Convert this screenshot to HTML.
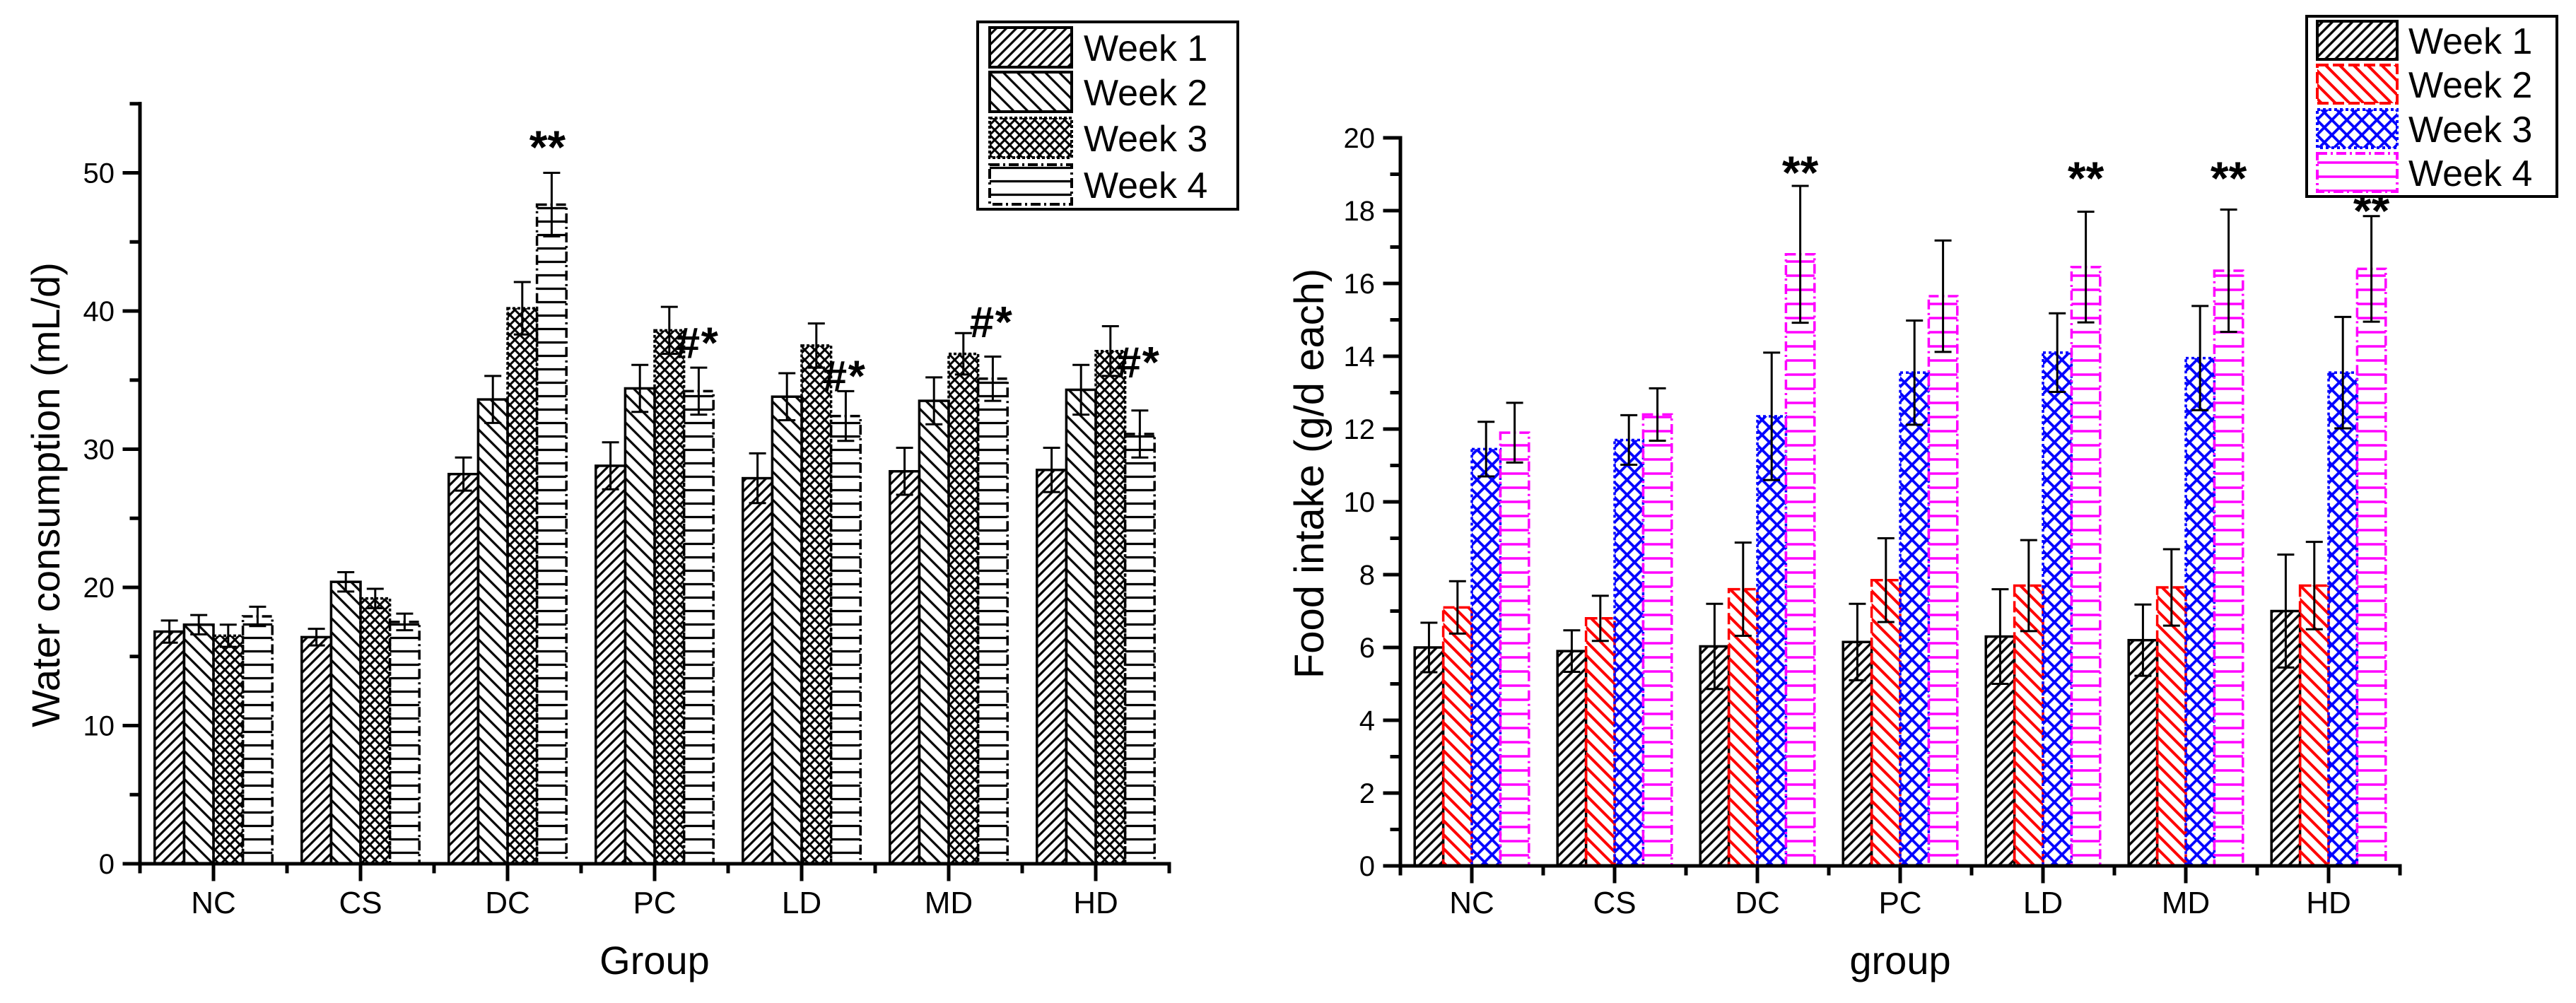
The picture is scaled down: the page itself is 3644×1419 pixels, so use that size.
<!DOCTYPE html>
<html>
<head>
<meta charset="utf-8">
<style>
  html, body { margin: 0; padding: 0; background: #fff; }
  svg { display: block; }
  text { font-family: "Liberation Sans", Arial, sans-serif; }
</style>
</head>
<body>
<svg id="fig" xmlns="http://www.w3.org/2000/svg" width="3644" height="1419" viewBox="0 0 3644 1419">
  <rect x="0" y="0" width="3644" height="1419" fill="#fff"/>
  <defs>
    <!-- left chart patterns (black) -->
    <pattern id="pL1" patternUnits="userSpaceOnUse" width="10" height="10" patternTransform="rotate(45)">
      <line x1="5" y1="0" x2="5" y2="10" stroke="#000" stroke-width="3.2"/>
    </pattern>
    <pattern id="pL2" patternUnits="userSpaceOnUse" width="14" height="14" patternTransform="rotate(-45)">
      <line x1="7" y1="0" x2="7" y2="14" stroke="#000" stroke-width="3.2"/>
    </pattern>
    <pattern id="pL3" patternUnits="userSpaceOnUse" width="10" height="10" patternTransform="rotate(45)">
      <line x1="5" y1="0" x2="5" y2="10" stroke="#000" stroke-width="3"/>
      <line x1="0" y1="5" x2="10" y2="5" stroke="#000" stroke-width="3"/>
    </pattern>
    <pattern id="pL4" patternUnits="userSpaceOnUse" width="20" height="19">
      <line x1="0" y1="9.5" x2="20" y2="9.5" stroke="#000" stroke-width="3.2"/>
    </pattern>
    <!-- right chart patterns (colour) -->
    <pattern id="pR1" patternUnits="userSpaceOnUse" width="10" height="10" patternTransform="rotate(45)">
      <line x1="5" y1="0" x2="5" y2="10" stroke="#000" stroke-width="3.4"/>
    </pattern>
    <pattern id="pR2" patternUnits="userSpaceOnUse" width="14" height="14" patternTransform="rotate(-45)">
      <line x1="7" y1="0" x2="7" y2="14" stroke="#ff0000" stroke-width="4"/>
    </pattern>
    <pattern id="pR3" patternUnits="userSpaceOnUse" width="15" height="15" patternTransform="rotate(45)">
      <line x1="7.5" y1="0" x2="7.5" y2="15" stroke="#0000ff" stroke-width="3.8"/>
      <line x1="0" y1="7.5" x2="15" y2="7.5" stroke="#0000ff" stroke-width="3.8"/>
    </pattern>
    <pattern id="pR4" patternUnits="userSpaceOnUse" width="20" height="20">
      <line x1="0" y1="10" x2="20" y2="10" stroke="#ff00ff" stroke-width="3.6"/>
    </pattern>
  </defs>
  <g id="leftChart"></g>
  <g id="rightChart"></g>
</svg>
<script>
// ---------- data ----------
const categories = ['NC', 'CS', 'DC', 'PC', 'LD', 'MD', 'HD'];
const seriesNames = ['Week 1', 'Week 2', 'Week 3', 'Week 4'];

const waterWeek1 = [16.8, 16.4, 28.2, 28.8, 27.9, 28.4, 28.5];
const waterWeek2 = [17.3, 20.4, 33.6, 34.4, 33.8, 33.5, 34.3];
const waterWeek3 = [16.5, 19.2, 40.2, 38.6, 37.5, 36.9, 37.1];
const waterWeek4 = [17.9, 17.5, 47.7, 34.2, 32.4, 35.1, 31.1];
const waterErr1 = [0.8, 0.6, 1.2, 1.7, 1.8, 1.7, 1.6];
const waterErr2 = [0.7, 0.7, 1.7, 1.7, 1.7, 1.7, 1.8];
const waterErr3 = [0.8, 0.7, 1.9, 1.7, 1.6, 1.5, 1.8];
const waterErr4 = [0.7, 0.6, 2.3, 1.7, 1.8, 1.6, 1.7];
const waterMarks = ['', '', '**', '#*', '#*', '#*', '#*'];
const waterMarkValues = [0, 0, 51.6, 36.6, 34.2, 38.1, 35.2];
const waterTicks = [0, 10, 20, 30, 40, 50];

const foodWeek1 = [6.0, 5.9, 6.03, 6.15, 6.3, 6.2, 7.0];
const foodWeek2 = [7.1, 6.8, 7.6, 7.85, 7.7, 7.65, 7.7];
const foodWeek3 = [11.45, 11.7, 12.35, 13.55, 14.1, 13.95, 13.55];
const foodWeek4 = [11.9, 12.4, 16.8, 15.65, 16.45, 16.35, 16.4];
const foodErr1 = [0.68, 0.57, 1.17, 1.05, 1.3, 0.98, 1.55];
const foodErr2 = [0.72, 0.62, 1.28, 1.15, 1.25, 1.05, 1.2];
const foodErr3 = [0.75, 0.68, 1.75, 1.43, 1.08, 1.43, 1.53];
const foodErr4 = [0.82, 0.72, 1.88, 1.53, 1.52, 1.68, 1.45];
const foodMarks = ['', '', '**', '', '**', '**', '**'];
const foodMarkValues = [0, 0, 18.95, 0, 18.8, 18.8, 17.9];
const foodTicks = [0, 2, 4, 6, 8, 10, 12, 14, 16, 18, 20];

const NS = 'http://www.w3.org/2000/svg';
function mk(parent, tag, attrs) {
  const el = document.createElementNS(NS, tag);
  for (const k in attrs) el.setAttribute(k, attrs[k]);
  parent.appendChild(el);
  return el;
}

function drawChart(g, cfg) {
  const yPix = v => cfg.yBase - v * cfg.ppu;
  const catLeft = i => cfg.x0 + i * cfg.catW;
  const barW = cfg.catW * 0.2;
  const barX = (i, s) => catLeft(i) + cfg.catW * 0.1 + s * barW;
  const xEnd = cfg.x0 + categories.length * cfg.catW;

  // bars
  for (let s = 0; s < cfg.series.length; s++) {
    for (let i = 0; i < categories.length; i++) {
      const v = cfg.series[s][i];
      const r = mk(g, 'rect', {
        x: barX(i, s), y: yPix(v), width: barW, height: yPix(0) - yPix(v),
        fill: 'url(#' + cfg.patterns[s] + ')', stroke: cfg.colors[s],
        'stroke-width': 3.5, 'stroke-dasharray': cfg.dashes[s]
      });
      
      
    }
  }
  // error bars
  for (let s = 0; s < cfg.series.length; s++) {
    for (let i = 0; i < categories.length; i++) {
      const v = cfg.series[s][i], e = cfg.errors[s][i];
      const cx = barX(i, s) + barW / 2;
      const eg = mk(g, 'g', { stroke: '#000', 'stroke-width': 3, fill: 'none' });
      
      
      mk(eg, 'line', { x1: cx, x2: cx, y1: yPix(v + e), y2: yPix(v - e) });
      mk(eg, 'line', { x1: cx - 12, x2: cx + 12, y1: yPix(v + e), y2: yPix(v + e) });
      mk(eg, 'line', { x1: cx - 12, x2: cx + 12, y1: yPix(v - e), y2: yPix(v - e) });
    }
  }
  // significance marks
  for (let i = 0; i < categories.length; i++) {
    const m = cfg.marks[i];
    if (!m) continue;
    let t;
    if (m === '**') {
      const cx = barX(i, 3) + barW / 2 + cfg.starShift;
      t = mk(g, 'text', { x: cx, y: yPix(cfg.markValues[i]) + 18, 'text-anchor': 'middle', 'font-size': 66, 'font-weight': 'bold' });
    } else {
      const sx = barX(i, 2) + barW / 2 + 8;
      t = mk(g, 'text', { x: sx, y: yPix(cfg.markValues[i]), 'font-size': 62, 'font-weight': 'bold', 'font-style': 'italic' });
    }
    t.textContent = m;
    
    
  }

  // axes
  const ax = mk(g, 'g', { stroke: '#000', 'stroke-width': 5, fill: 'none', 'stroke-linecap': 'square' });
  
  
  const yAxis = mk(ax, 'line', { x1: cfg.x0, x2: cfg.x0, y1: yPix(cfg.yMax), y2: yPix(0) });
  
  
  const xAxis = mk(ax, 'line', { x1: cfg.x0, x2: xEnd, y1: yPix(0), y2: yPix(0) });
  
  
  // y ticks
  const step = cfg.ticks[1] - cfg.ticks[0];
  for (let k = 0; k < cfg.ticks.length; k++) {
    const v = cfg.ticks[k];
    mk(ax, 'line', { x1: cfg.x0 - 22, x2: cfg.x0, y1: yPix(v), y2: yPix(v) });
    const lbl = mk(g, 'text', { x: cfg.x0 - 36, y: yPix(v) + 14, 'text-anchor': 'end', 'font-size': 40 });
    lbl.textContent = String(v);
    
    
    const mv = v + step / 2;
    if (mv <= cfg.yMax) mk(ax, 'line', { x1: cfg.x0 - 12, x2: cfg.x0, y1: yPix(mv), y2: yPix(mv) });
  }
  // x ticks
  for (let i = 0; i <= categories.length; i++) {
    mk(ax, 'line', { x1: catLeft(i), x2: catLeft(i), y1: yPix(0), y2: yPix(0) + 11 });
  }
  for (let i = 0; i < categories.length; i++) {
    const cx = catLeft(i) + cfg.catW / 2;
    mk(ax, 'line', { x1: cx, x2: cx, y1: yPix(0), y2: yPix(0) + 22 });
    const lbl = mk(g, 'text', { x: cx, y: 1292, 'text-anchor': 'middle', 'font-size': 44 });
    lbl.textContent = categories[i];
    
    
  }
  // axis titles
  const xt = mk(g, 'text', { x: (cfg.x0 + xEnd) / 2, y: 1378, 'text-anchor': 'middle', 'font-size': 56 });
  xt.textContent = cfg.xTitle;
  
  
  const yt = mk(g, 'text', { x: 0, y: 0, 'text-anchor': 'middle', 'font-size': cfg.yTitleSize,
    transform: 'translate(' + cfg.yTitleX + ',' + cfg.yTitleY + ') rotate(-90)' });
  yt.textContent = cfg.yTitle;
  
  

  // legend
  const L = cfg.legend;
  const lg = mk(g, 'g', {});
  
  
  mk(lg, 'rect', { x: L.x, y: L.y, width: L.w, height: L.h, fill: '#fff', stroke: '#000', 'stroke-width': 4 });
  for (let s = 0; s < seriesNames.length; s++) {
    const ent = mk(lg, 'g', {});
    
    
    const cy = L.rows[s];
    mk(ent, 'rect', { x: L.sx, y: cy - L.sh / 2, width: L.sw, height: L.sh,
      fill: 'url(#' + cfg.patterns[s] + ')', stroke: cfg.colors[s], 'stroke-width': 4, 'stroke-dasharray': cfg.dashes[s] });
    const t = mk(ent, 'text', { x: L.tx, y: cy + 19, 'font-size': 52 });
    t.textContent = seriesNames[s];
  }
}

drawChart(document.getElementById('leftChart'), {
  x0: 198, catW: 208, yBase: 1222, ppu: 19.55, yMax: 55,
  ticks: waterTicks,
  series: [waterWeek1, waterWeek2, waterWeek3, waterWeek4],
  errors: [waterErr1, waterErr2, waterErr3, waterErr4],
  marks: waterMarks, markValues: waterMarkValues, starShift: -6,
  patterns: ['pL1', 'pL2', 'pL3', 'pL4'],
  colors: ['#000', '#000', '#000', '#000'],
  dashes: ['none', 'none', '4 3', '14 5 3 5'],
  xTitle: 'Group', yTitle: 'Water consumption (mL/d)', yTitleSize: 56, yTitleX: 84, yTitleY: 700,
  legend: { x: 1383, y: 31, w: 368, h: 265, sx: 1400, sw: 116, sh: 56, tx: 1533, rows: [67, 130, 195, 261] }
});

drawChart(document.getElementById('rightChart'), {
  x0: 1981, catW: 202, yBase: 1225, ppu: 51.5, yMax: 20,
  ticks: foodTicks,
  series: [foodWeek1, foodWeek2, foodWeek3, foodWeek4],
  errors: [foodErr1, foodErr2, foodErr3, foodErr4],
  marks: foodMarks, markValues: foodMarkValues, starShift: 0,
  patterns: ['pR1', 'pR2', 'pR3', 'pR4'],
  colors: ['#000', '#ff0000', '#0000ff', '#ff00ff'],
  dashes: ['none', '16 6', '4 4', '14 5 3 5'],
  xTitle: 'group', yTitle: 'Food intake (g/d each)', yTitleSize: 58, yTitleX: 1872, yTitleY: 670,
  legend: { x: 3263, y: 23, w: 354, h: 255, sx: 3278, sw: 113, sh: 54, tx: 3407, rows: [57, 119, 182, 244] }
});
</script>
</body>
</html>
